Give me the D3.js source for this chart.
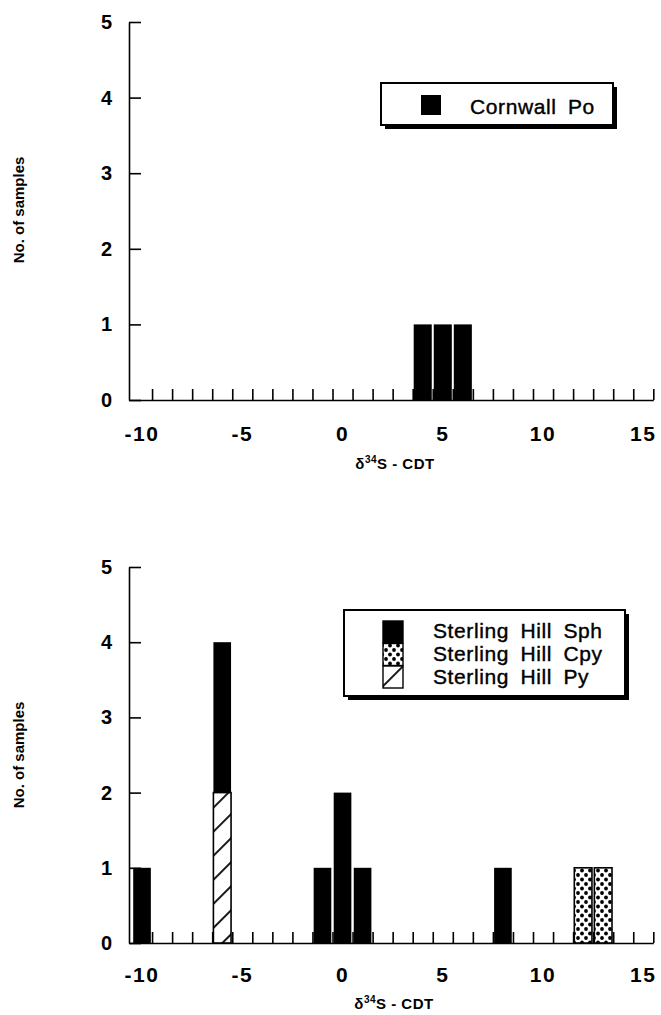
<!DOCTYPE html>
<html>
<head>
<meta charset="utf-8">
<script src="https://cdn.jsdelivr.net/npm/d3@7"></script>
<style>
  body { margin: 0; background: #fff; }
  text { font-family: "Liberation Sans", Arial, Helvetica, sans-serif; fill: #000; }
</style>
</head>
<body>
<svg id="chart" width="661" height="1015"></svg>
<script>
// tick labels
var xLabels = [-10, -5, 0, 5, 10, 15];
var yTicks = [0, 1, 2, 3, 4, 5];
// bin edges (ticks sit between the 1 permil bins)
var binEdges = [-9.5, -8.5, -7.5, -6.5, -5.5, -4.5, -3.5, -2.5, -1.5, -0.5, 0.5, 1.5, 2.5,
  3.5, 4.5, 5.5, 6.5, 7.5, 8.5, 9.5, 10.5, 11.5, 12.5, 13.5, 14.5, 15.5];

// Cornwall pyrrhotite
var cornwallBins = [4, 5, 6];
var cornwallPo = [1, 1, 1];

// Sterling Hill
var sterlingBins = [-10, -6, -1, 0, 1, 8, 12, 13];
var sterlingSph = [1, 2, 1, 2, 1, 1, 0, 0];
var sterlingCpy = [0, 0, 0, 0, 0, 0, 1, 1];
var sterlingPy  = [0, 2, 0, 0, 0, 0, 0, 0];

var sterlingLegend = ["Sterling Hill Sph", "Sterling Hill Cpy", "Sterling Hill Py"];
var sterlingKeys = ["sph", "cpy", "py"];

var svg = d3.select("#chart");
svg.append("rect").attr("width", 661).attr("height", 1015).attr("fill", "#fff");

// patterns
var defs = svg.append("defs");
var hatch = defs.append("pattern")
  .attr("id", "hatch")
  .attr("patternUnits", "userSpaceOnUse")
  .attr("width", 17).attr("height", 17)
  .attr("patternTransform", "rotate(45)");
hatch.append("rect").attr("width", 17).attr("height", 17).attr("fill", "#fff");
hatch.append("line").attr("x1", 8).attr("x2", 8).attr("y1", 0).attr("y2", 17)
  .attr("stroke", "#000").attr("stroke-width", 1.8);

var dots = defs.append("pattern")
  .attr("id", "dots")
  .attr("patternUnits", "userSpaceOnUse")
  .attr("width", 8).attr("height", 9);
dots.append("rect").attr("width", 8).attr("height", 9).attr("fill", "#fff");
dots.append("circle").attr("cx", 2).attr("cy", 2).attr("r", 1.9).attr("fill", "#000");
dots.append("circle").attr("cx", 6).attr("cy", 6.5).attr("r", 1.9).attr("fill", "#000");

var fills = { sph: "#000", cpy: "url(#dots)", py: "url(#hatch)", po: "#000" };

var x = d3.scaleLinear().domain([-10.65, 15.5]).range([129, 653.3]);

function drawFrame(cfg) {
  var y = d3.scaleLinear().domain([0, 5]).range([cfg.y0, cfg.y5]);
  var g = svg.append("g");

  // y axis, ticks point inward
  var yAxis = g.append("g")
    .attr("transform", "translate(" + x.range()[0] + ",0)")
    .call(d3.axisLeft(y).tickValues(yTicks).tickSize(-12).tickSizeOuter(0).tickPadding(17)
      .tickFormat(function(d) { return String(d); }));
  yAxis.selectAll("text").attr("font-size", 20).attr("font-weight", "bold")
    .attr("font-family", "Liberation Sans, Arial, sans-serif");

  // x axis bin-edge ticks
  g.append("g")
    .attr("transform", "translate(0," + cfg.y0 + ")")
    .call(d3.axisBottom(x).tickValues(binEdges).tickSize(-11).tickSizeOuter(0).tickFormat(""));

  // x labels at integer values
  g.selectAll("text.xlab")
    .data(xLabels)
    .join("text")
    .attr("class", "xlab")
    .attr("x", function(d) { return x(d); })
    .attr("y", cfg.labelY)
    .attr("text-anchor", "middle")
    .attr("font-size", 21)
    .attr("font-weight", "bold")
    .attr("letter-spacing", 1.5)
    .text(function(d) { return String(d); });

  g.selectAll(".domain, .tick line").attr("stroke", "#000").attr("stroke-width", 1.6);
  g.selectAll(".domain").attr("fill", "none");
  g.selectAll(".tick text").attr("fill", "#000");

  // axis title
  var t = g.append("text")
    .attr("x", cfg.titleX)
    .attr("y", cfg.titleY)
    .attr("text-anchor", "middle")
    .attr("font-size", 15)
    .attr("font-weight", "bold")
    .attr("letter-spacing", 0.5);
  t.append("tspan").text("\u03b4");
  t.append("tspan").attr("font-size", 10).attr("dy", -6).text("34");
  t.append("tspan").attr("dy", 6).text("S - CDT");

  g.append("text")
    .attr("transform", "translate(" + 24 + "," + cfg.ylabY + ") rotate(-90)")
    .attr("text-anchor", "middle")
    .attr("font-size", 15)
    .attr("font-weight", "bold")
    .text("No. of samples");

  return { g: g, y: y };
}

function legendBox(g, bx, by, bw, bh) {
  g.append("rect").attr("x", bx + 4).attr("y", by + 4).attr("width", bw).attr("height", bh).attr("fill", "#000");
  g.append("rect").attr("x", bx).attr("y", by).attr("width", bw).attr("height", bh)
    .attr("fill", "#fff").attr("stroke", "#000").attr("stroke-width", 2);
}

// ---- top: Cornwall ----
var topChart = drawFrame({ y0: 400, y5: 22, labelY: 441, titleX: 395, titleY: 469, ylabY: 210 });

topChart.g.selectAll("rect.po")
  .data(cornwallBins)
  .join("rect")
  .attr("class", "po")
  .attr("x", function(d) { return x(d - 0.5) + 1; })
  .attr("width", function(d) { return x(d + 0.5) - x(d - 0.5) - 2; })
  .attr("y", function(d, i) { return topChart.y(cornwallPo[i]); })
  .attr("height", function(d, i) { return topChart.y(0) - topChart.y(cornwallPo[i]); })
  .attr("fill", fills.po);

legendBox(topChart.g, 381, 83, 232, 42);
topChart.g.append("rect").attr("x", 421).attr("y", 95).attr("width", 20).attr("height", 20).attr("fill", "#000");
topChart.g.append("text").attr("x", 470).attr("y", 114).attr("font-size", 21)
  .attr("stroke", "#000").attr("stroke-width", 0.4)
  .attr("letter-spacing", 0.6).attr("word-spacing", 5).text("Cornwall Po");

// ---- bottom: Sterling Hill ----
var botChart = drawFrame({ y0: 943, y5: 567, labelY: 982, titleX: 394, titleY: 1009, ylabY: 755 });

var rows = sterlingBins.map(function(b, i) {
  return { bin: b, py: sterlingPy[i], cpy: sterlingCpy[i], sph: sterlingSph[i] };
});
var stack = d3.stack().keys(["py", "cpy", "sph"])(rows);

botChart.g.selectAll("g.layer")
  .data(stack)
  .join("g")
  .attr("class", "layer")
  .each(function(layer) {
    var key = layer.key;
    d3.select(this).selectAll("rect")
      .data(layer.filter(function(d) { return d[1] > d[0]; }))
      .join("rect")
      .attr("x", function(d) { return x(d.data.bin - 0.5) + 1.2; })
      .attr("width", function(d) { return x(d.data.bin + 0.5) - x(d.data.bin - 0.5) - 2.4; })
      .attr("y", function(d) { return botChart.y(d[1]); })
      .attr("height", function(d) { return botChart.y(d[0]) - botChart.y(d[1]); })
      .attr("fill", fills[key])
      .attr("stroke", "#000")
      .attr("stroke-width", key === "sph" ? 0 : 1.6);
  });

legendBox(botChart.g, 344, 610, 281, 86);
botChart.g.selectAll("rect.sw")
  .data(sterlingKeys)
  .join("rect")
  .attr("class", "sw")
  .attr("x", 383)
  .attr("y", function(d, i) { return 621 + i * 22.5; })
  .attr("width", 20)
  .attr("height", 22)
  .attr("fill", function(d) { return fills[d]; })
  .attr("stroke", "#000")
  .attr("stroke-width", 1.4);
botChart.g.selectAll("text.lg")
  .data(sterlingLegend)
  .join("text")
  .attr("class", "lg")
  .attr("x", 433)
  .attr("y", function(d, i) { return 638 + i * 23; })
  .attr("font-size", 21)
  .attr("stroke", "#000")
  .attr("stroke-width", 0.4)
  .attr("letter-spacing", 0.6)
  .attr("word-spacing", 5)
  .text(function(d) { return d; });
</script>
</body>
</html>
